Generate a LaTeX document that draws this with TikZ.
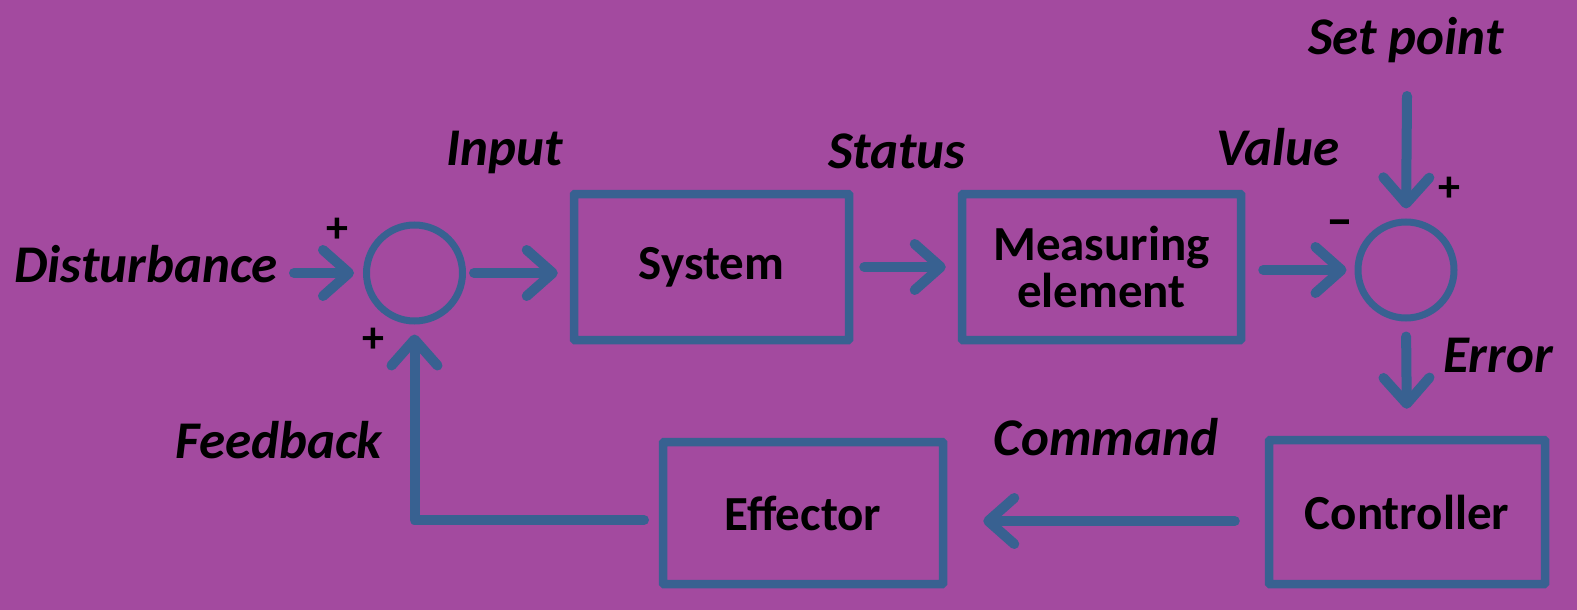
\documentclass[tikz,border=0pt]{standalone}
\usepackage{fontspec}
\setmainfont{Carlito}
\usetikzlibrary{arrows.meta,calc}
\definecolor{bgpurple}{RGB}{163,74,159}
\definecolor{lineblue}{RGB}{56,97,145}
\begin{document}
\begin{tikzpicture}[x=1pt,y=-1pt,
  block/.style={draw=lineblue,line width=8.5pt,rectangle,rounded corners=1pt,
    inner sep=0pt,align=center,font=\fontsize{49}{47}\selectfont\bfseries},
  junction/.style={draw=lineblue,line width=7pt,circle,minimum size=96pt,inner sep=0pt},
  flow/.style={draw=lineblue,line width=10pt,line cap=round,line join=round,
    -{Straight Barb[length=26pt,width=46pt,line cap=round,line join=round]}},
  signal/.style={font=\fontsize{53}{53}\selectfont\bfseries\itshape,inner sep=0pt,anchor=base},
  sign/.style={font=\fontsize{44}{44}\selectfont\bfseries,inner sep=0pt}]
  % background
  \fill[bgpurple] (0,0) rectangle (1577,610);
  \useasboundingbox (0,0) rectangle (1577,610);

  % blocks
  \node[block,minimum width=275pt,minimum height=146pt] (sys) at (711.5,267) {System};
  \node[block,minimum width=279pt,minimum height=146pt] (meas) at (1101.5,267) {Measuring\\element};
  \node[block,minimum width=280pt,minimum height=142pt] (eff) at (803,513) {Effector};
  \node[block,minimum width=276pt,minimum height=144pt] (ctrl) at (1407,512) {Controller};

  % summing junctions
  \node[junction] (c1) at (414.5,273) {};
  \node[junction] (c2) at (1406,270) {};

  % free ends of connectors
  \coordinate (dist) at (294,273);
  \coordinate (sp) at (1407,96);
  \coordinate (fb) at (644,520);

  % connectors
  \draw[flow,shorten >=9pt] (dist) -- (c1.west);
  \draw[flow,shorten <=8pt,shorten >=12pt] (c1.east) -- (sys.west |- c1.east);
  \draw[flow,shorten <=11pt,shorten >=12pt] (sys.east) -- (meas.west);
  \draw[flow,shorten <=18pt,shorten >=8pt] (meas.east |- c2.west) -- (c2.west);
  \draw[flow,shorten >=10pt] (sp) -- (c2.north);
  \draw[flow,shorten <=15pt,shorten >=27pt] (c2.south) -- (ctrl.north);
  \draw[flow,shorten <=30pt,shorten >=36pt] (ctrl.west |- 0,521) -- (eff.east |- 0,521);
  \draw[flow,shorten >=10pt] (fb) -| (c1.south);

  % signal labels
  \node[signal] (ldist) at (146,282) {Disturbance};
  \node[signal] (linput) at (505,165) {Input};
  \node[signal] (lstatus) at (897,168) {Status};
  \node[signal] (lvalue) at (1278,165) {Value};
  \node[signal] (lsp) at (1406,55) {Set point};
  \node[signal,anchor=base west] (lerr) at (1443,372) {Error};
  \node[signal] (lfb) at (279,458) {Feedback};
  \node[signal] (lcmd) at (1106,455) {Command};

  % signs
  \node[sign] (p1) at (337,230) {+};
  \node[sign] (p2) at (373,340) {+};
  \node[sign] (p3) at (1449,189) {+};
  \node[sign,font=\fontsize{54}{54}\selectfont\bfseries] (m1) at (1340,229) {–};
\end{tikzpicture}
\end{document}
